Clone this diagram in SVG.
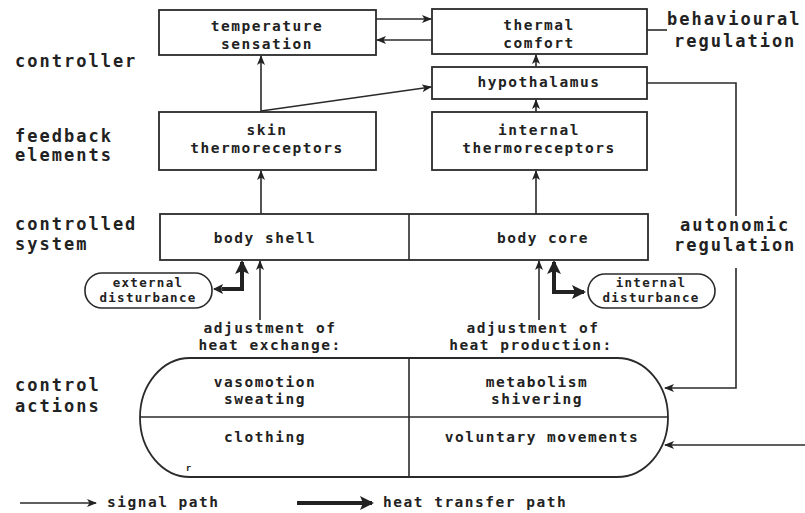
<svg xmlns="http://www.w3.org/2000/svg" width="805" height="513" viewBox="0 0 805 513">
<defs>
<style>
.box{fill:#fff;stroke:#2a2a2a;stroke-width:1.8}
.pill{fill:#fff;stroke:#2a2a2a;stroke-width:1.6}
.t{font-family:"DejaVu Sans Mono","Liberation Mono",monospace;font-weight:bold;font-size:14.5px;letter-spacing:1.5px;fill:#222;text-anchor:middle}
.lg{font-family:"DejaVu Sans Mono","Liberation Mono",monospace;font-weight:bold;font-size:14.5px;letter-spacing:1.5px;fill:#222;text-anchor:start}
.s{font-family:"DejaVu Sans Mono","Liberation Mono",monospace;font-weight:bold;font-size:12.5px;letter-spacing:1.3px;fill:#222;text-anchor:middle}
.L{font-family:"DejaVu Sans Mono","Liberation Mono",monospace;font-weight:bold;font-size:17px;letter-spacing:2px;fill:#222}
.sig{fill:none;stroke:#2a2a2a;stroke-width:1.6}
.heat{fill:none;stroke:#222;stroke-width:4}
</style>
<marker id="a" markerWidth="10" markerHeight="8" refX="9" refY="4" orient="auto" markerUnits="userSpaceOnUse">
<path d="M0,0 L10,4 L0,8 L2.5,4 Z" fill="#222"/>
</marker>
<marker id="h" markerWidth="14" markerHeight="14" refX="12" refY="7" orient="auto" markerUnits="userSpaceOnUse">
<path d="M0,0 L14,7 L0,14 L3,7 Z" fill="#222"/>
</marker>
<marker id="hs" markerWidth="10" markerHeight="10" refX="9" refY="5" orient="auto" markerUnits="userSpaceOnUse">
<path d="M0,0 L10,5 L0,10 L2,5 Z" fill="#222"/>
</marker>
</defs>
<rect width="805" height="513" fill="#fff"/>

<g id="labels">
<text class="L" x="15" y="67">controller</text>
<text class="L" x="15" y="142">feedback</text>
<text class="L" x="15" y="161">elements</text>
<text class="L" x="15" y="230">controlled</text>
<text class="L" x="15" y="250">system</text>
<text class="L" x="15" y="391">control</text>
<text class="L" x="15" y="412">actions</text>
<text class="L" x="667" y="25">behavioural</text>
<text class="L" x="674" y="47">regulation</text>
<text class="L" x="680" y="231">autonomic</text>
<text class="L" x="674" y="251">regulation</text>
</g>

<g id="connectors">
<line class="sig" x1="376" y1="19" x2="431" y2="19" marker-end="url(#a)"/>
<line class="sig" x1="432" y1="40" x2="377" y2="40" marker-end="url(#a)"/>
<line class="sig" x1="647" y1="30" x2="667" y2="30"/>
<line class="sig" x1="536" y1="67" x2="536" y2="55" marker-end="url(#a)"/>
<line class="sig" x1="536" y1="112" x2="536" y2="100" marker-end="url(#a)"/>
<line class="sig" x1="261" y1="112" x2="261" y2="56" marker-end="url(#a)"/>
<line class="sig" x1="261" y1="111" x2="431" y2="87" marker-end="url(#a)"/>
<line class="sig" x1="261" y1="214" x2="261" y2="171" marker-end="url(#a)"/>
<line class="sig" x1="536" y1="214" x2="536" y2="171" marker-end="url(#a)"/>
<polyline class="sig" points="647,83 736,83 736,216"/>
<polyline class="sig" points="736,268 736,388 665,388" marker-end="url(#a)"/>
<line class="sig" x1="805" y1="445" x2="665" y2="445" marker-end="url(#a)"/>
<line class="sig" x1="260" y1="320" x2="260" y2="261" marker-end="url(#a)"/>
<line class="sig" x1="539" y1="320" x2="539" y2="261" marker-end="url(#a)"/>
<line class="heat" x1="457" y1="231" x2="357" y2="231" marker-end="url(#h)"/>
<polyline class="heat" points="222,289 242,289 242,262" marker-end="url(#h)"/>
<line class="sig" x1="224" y1="289" x2="214" y2="289" stroke-width="3" marker-end="url(#hs)"/>
<polyline class="heat" points="554,262 554,292 584,292" marker-end="url(#h)"/>
<line class="heat" x1="554" y1="270" x2="554" y2="262" marker-end="url(#h)"/>
</g>

<g id="temperature-sensation">
<rect class="box" x="159" y="10" width="217" height="45"/>
<text class="t" x="267" y="31">temperature</text>
<text class="t" x="267" y="49">sensation</text>
</g>
<g id="thermal-comfort">
<rect class="box" x="432" y="9" width="215" height="45"/>
<text class="t" x="539" y="30">thermal</text>
<text class="t" x="539" y="48">comfort</text>
</g>
<g id="hypothalamus">
<rect class="box" x="432" y="67" width="215" height="32"/>
<text class="t" x="539" y="87">hypothalamus</text>
</g>
<g id="skin-thermoreceptors">
<rect class="box" x="159" y="112" width="217" height="58"/>
<text class="t" x="267" y="135">skin</text>
<text class="t" x="267" y="153">thermoreceptors</text>
</g>
<g id="internal-thermoreceptors">
<rect class="box" x="432" y="112" width="215" height="58"/>
<text class="t" x="539" y="135">internal</text>
<text class="t" x="539" y="153">thermoreceptors</text>
</g>
<g id="body">
<rect class="box" x="160" y="214" width="488" height="46"/>
<line class="sig" x1="409" y1="214" x2="409" y2="260"/>
<text class="t" x="265" y="243">body shell</text>
<text class="t" x="543" y="243">body core</text>
</g>
<g id="external-disturbance">
<rect class="pill" x="85" y="273" width="127" height="35" rx="17" ry="17"/>
<text class="s" x="148" y="287">external</text>
<text class="s" x="148" y="302">disturbance</text>
</g>
<g id="internal-disturbance">
<rect class="pill" x="588" y="274" width="127" height="34" rx="17" ry="17"/>
<text class="s" x="651" y="287">internal</text>
<text class="s" x="651" y="302">disturbance</text>
</g>
<g id="adjustments">
<text class="t" x="270" y="333">adjustment of</text>
<text class="t" x="270" y="350">heat exchange:</text>
<text class="t" x="533" y="333">adjustment of</text>
<text class="t" x="531" y="350">heat production:</text>
</g>
<g id="control-actions">
<path class="box" d="M190,358 H617 A51,59.5 0 0 1 617,477 H190 A50,59.5 0 0 1 190,358 Z"/>
<line class="sig" x1="140" y1="417" x2="668" y2="417"/>
<line class="sig" x1="409" y1="358" x2="409" y2="477"/>
<text class="t" x="265" y="387">vasomotion</text>
<text class="t" x="265" y="404">sweating</text>
<text class="t" x="265" y="442">clothing</text>
<text class="t" x="537" y="387">metabolism</text>
<text class="t" x="537" y="404">shivering</text>
<text class="t" x="542" y="442">voluntary movements</text>
<text class="s" x="189" y="471" style="font-size:9px">r</text>
</g>
<g id="legend">
<line class="sig" x1="20" y1="503" x2="96" y2="503" marker-end="url(#a)"/>
<text class="lg" x="107" y="507">signal path</text>
<line class="heat" x1="297" y1="503" x2="372" y2="503" marker-end="url(#h)"/>
<text class="lg" x="383" y="507">heat transfer path</text>
</g>
</svg>
